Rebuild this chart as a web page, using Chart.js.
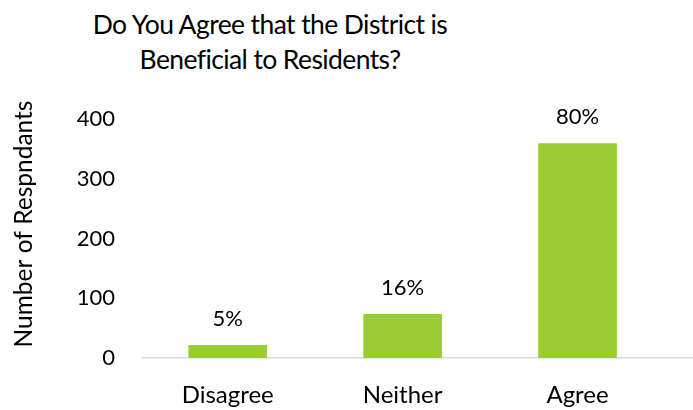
<!DOCTYPE html>
<html>
<head>
<meta charset="utf-8">
<script src="https://cdn.jsdelivr.net/npm/chart.js"></script>
<style>
  body { margin: 0; background: #fff; }
  #wrap { position: relative; width: 693px; height: 410px; }
  #title {
    position: absolute; left: 0; top: 7px; width: 540px;
    text-align: center; font-family: Lato, sans-serif;
    font-size: 26.5px; line-height: 35px; letter-spacing: -0.6px; color: #000;
  }
  canvas { position: absolute; left: 0; top: 0; }
</style>
</head>
<body>
<div id="wrap">
  <div id="title">Do You Agree that the District is<br>Beneficial to Residents?</div>
  <canvas id="chart" width="693" height="410"></canvas>
</div>
<script>
// values
const categories = ['Disagree', 'Neither', 'Agree'];
const respondents = [21, 73, 359];
const percentLabels = ['5%', '16%', '80%'];
const yTicks = [0, 100, 200, 300, 400];
const yTitle = 'Number of Respndants';

const barGreen = '#9ACD32';
const fontFamily = 'Lato, sans-serif';

// draws the percent above each bar
const barLabels = {
  id: 'barLabels',
  afterDatasetsDraw(chart) {
    const ctx = chart.ctx;
    const meta = chart.getDatasetMeta(0);
    ctx.save();
    ctx.font = '22px ' + fontFamily;
    ctx.fillStyle = '#000';
    ctx.textAlign = 'center';
    ctx.textBaseline = 'alphabetic';
    meta.data.forEach((bar, i) => {
      ctx.fillText(percentLabels[i], bar.x, bar.y - 19);
    });
    ctx.restore();
  }
};

// y axis title, sits a bit higher than the axis middle like the original
const axisTitle = {
  id: 'axisTitle',
  afterDraw(chart) {
    const ctx = chart.ctx;
    ctx.save();
    ctx.translate(24, 224);
    ctx.rotate(-Math.PI / 2);
    ctx.font = '24.5px ' + fontFamily;
    ctx.fillStyle = '#000';
    ctx.textAlign = 'center';
    ctx.textBaseline = 'middle';
    ctx.fillText(yTitle, 0, 0);
    ctx.restore();
  }
};

const ctx = document.getElementById('chart').getContext('2d');
new Chart(ctx, {
  type: 'bar',
  data: {
    datasets: [{
      data: categories.map((c, i) => ({ x: i, y: respondents[i] })),
      backgroundColor: barGreen,
      borderWidth: 0,
      barThickness: 78
    }]
  },
  options: {
    responsive: false,
    animation: false,
    layout: { padding: { top: 119, right: 0, bottom: 0, left: 0 } },
    plugins: {
      legend: { display: false },
      tooltip: { enabled: false }
    },
    scales: {
      x: {
        type: 'linear',
        offset: false,
        min: -0.49,
        max: 2.66,
        grid: { display: false },
        border: { display: true, color: '#D9D9D9', width: 1.5 },
        afterBuildTicks: s => { s.ticks = categories.map((c, i) => ({ value: i })); },
        afterFit: s => { s.height = 52; },
        ticks: {
          padding: 15,
          color: '#000',
          font: { family: fontFamily, size: 24 },
          callback: v => categories[v]
        }
      },
      y: {
        min: 0,
        max: 400,
        grid: { display: false },
        border: { display: false },
        afterBuildTicks: s => { s.ticks = yTicks.map(v => ({ value: v })); },
        afterFit: s => { s.width = 142; },
        ticks: {
          padding: 19,
          color: '#000',
          font: { family: fontFamily, size: 22 }
        }
      }
    }
  },
  plugins: [barLabels, axisTitle]
});
</script>
</body>
</html>
